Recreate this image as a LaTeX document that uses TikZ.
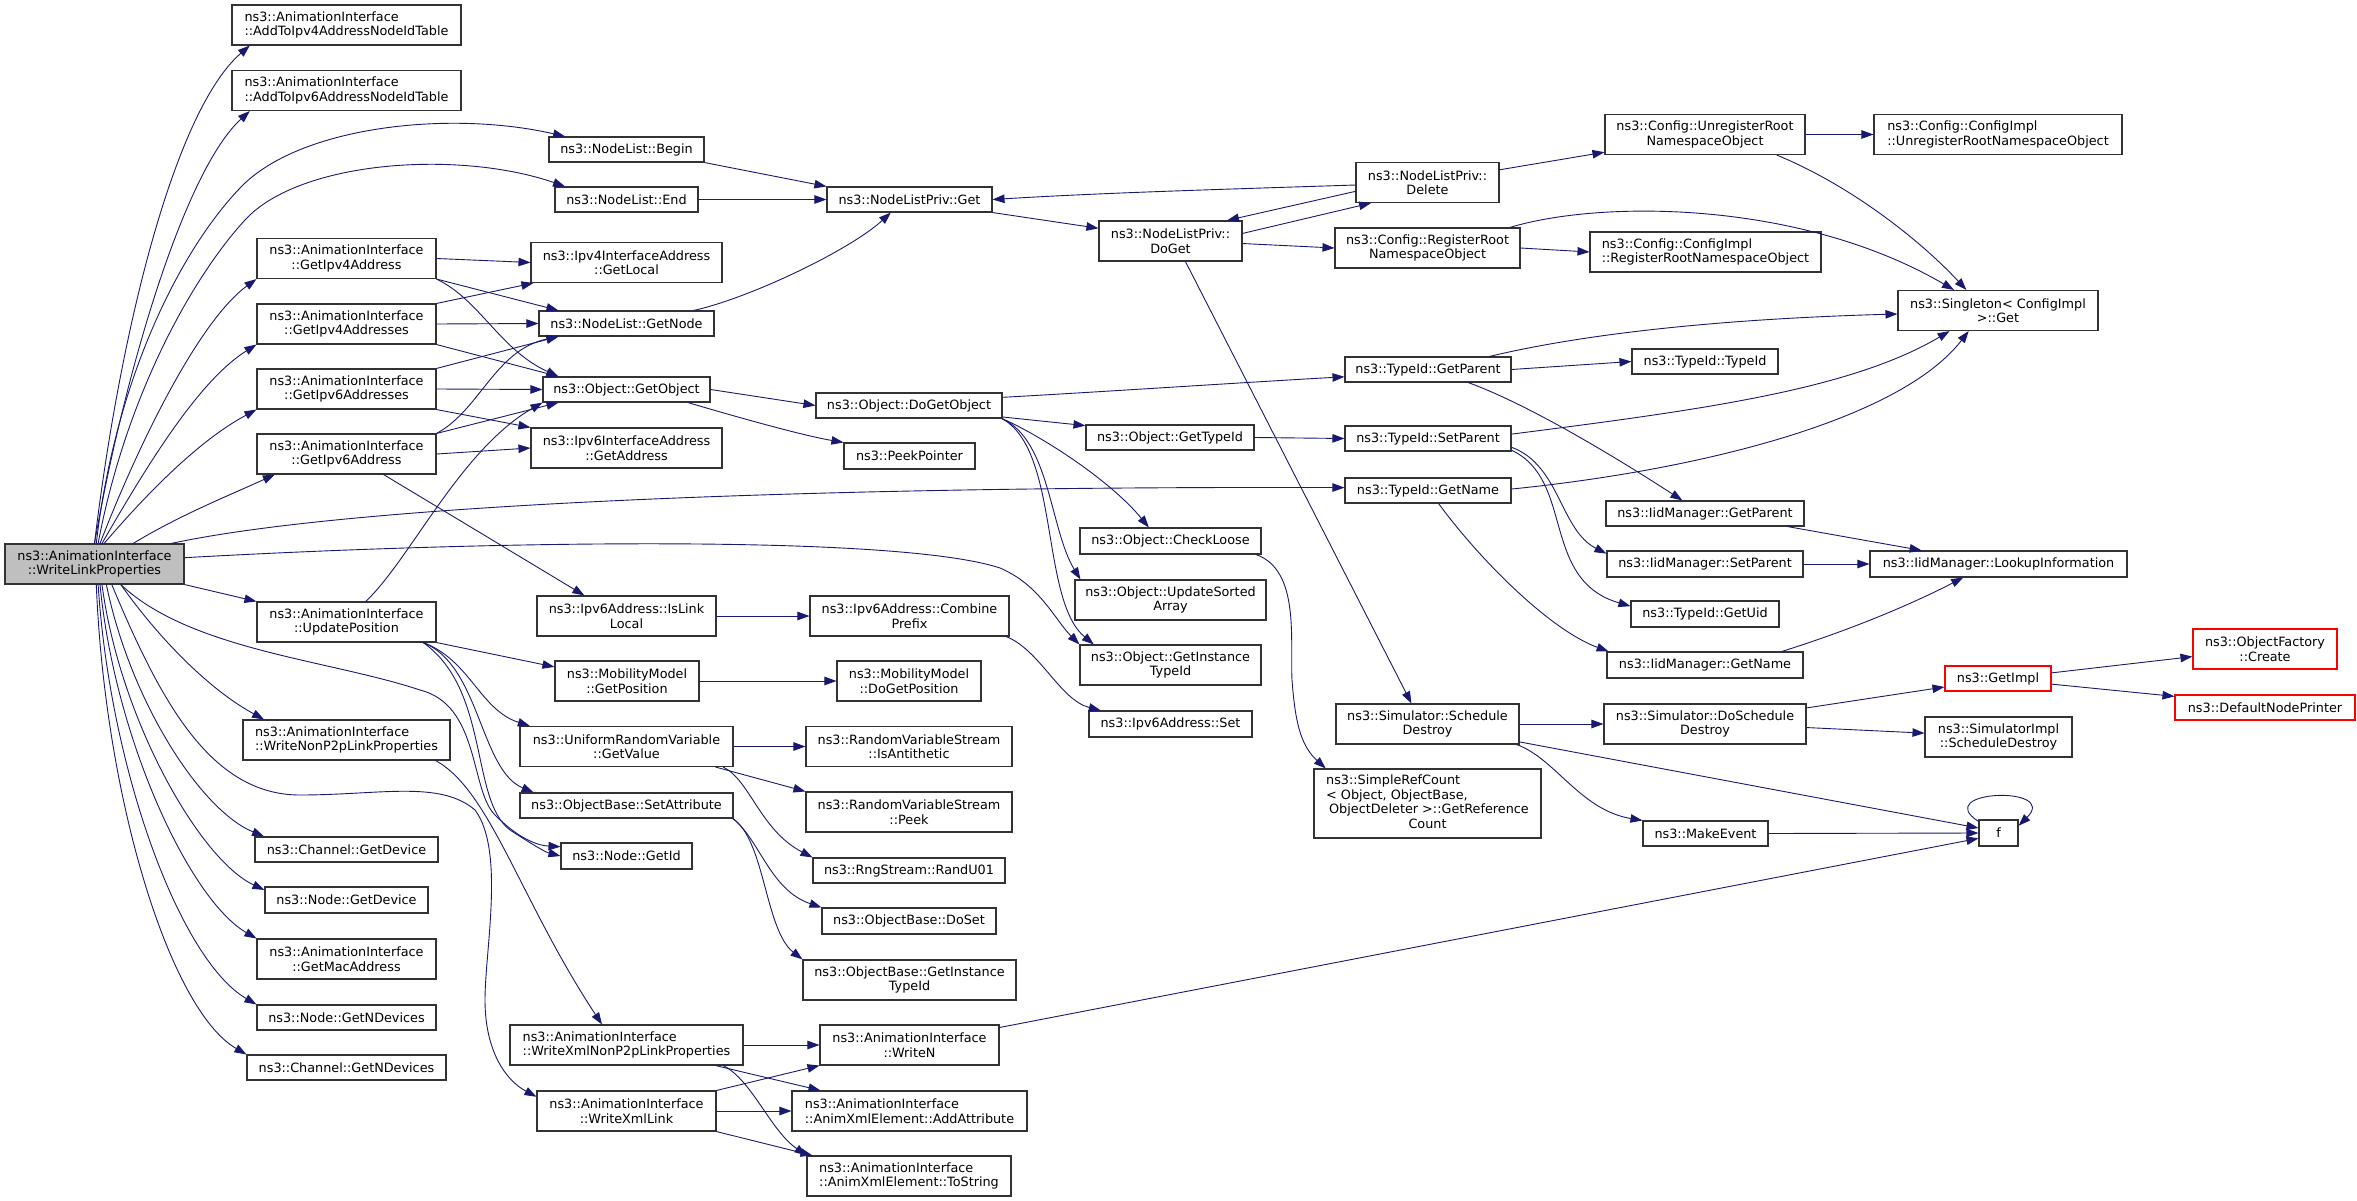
\documentclass[tikz,border=0pt]{standalone}
\usepackage{fontspec}
\setmainfont{DejaVu Sans}
\usetikzlibrary{arrows.meta}
\definecolor{edgec}{HTML}{191970}
\definecolor{boxc}{HTML}{333333}
\definecolor{wfill}{HTML}{BFBFBF}
\begin{document}
\begin{tikzpicture}[x=1pt,y=-1pt,
  box/.style={draw=boxc, line width=1.1pt, fill=white, inner sep=1pt, text=black, font=\fontsize{12.8}{14.5}\selectfont},
  cbox/.style={box, align=center},
  lbox/.style={box, align=left},
  rbox/.style={cbox, draw=red},
  wh/.style 2 args={minimum width=#1pt, minimum height=#2pt},
  edge/.style={draw=edgec, line width=0.9pt, -{Triangle[length=12pt,width=8.5pt]}}]
\useasboundingbox (0,0) rectangle (2357,1201);
% column 1
\node[cbox, fill=wfill, wh={179}{40}] (W) at (94.5,564) {ns3::AnimationInterface\\::WriteLinkProperties};
% column 2
\node[lbox, wh={229}{40}] (add4) at (346.5,25) {ns3::AnimationInterface\\::AddToIpv4AddressNodeIdTable};
\node[lbox, wh={229}{40}] (add6) at (346.5,90.5) {ns3::AnimationInterface\\::AddToIpv6AddressNodeIdTable};
\node[cbox, wh={179}{40}] (gip4) at (346.5,258.5) {ns3::AnimationInterface\\::GetIpv4Address};
\node[cbox, wh={179}{40}] (gip4s) at (346.5,324) {ns3::AnimationInterface\\::GetIpv4Addresses};
\node[cbox, wh={179}{40}] (gip6s) at (346.5,389) {ns3::AnimationInterface\\::GetIpv6Addresses};
\node[cbox, wh={179}{40}] (gip6) at (346.5,454) {ns3::AnimationInterface\\::GetIpv6Address};
\node[cbox, wh={179}{40}] (upd) at (346.5,622) {ns3::AnimationInterface\\::UpdatePosition};
\node[lbox, wh={207}{40}] (writenon) at (346.5,740) {ns3::AnimationInterface\\::WriteNonP2pLinkProperties};
\node[cbox, wh={183}{25}] (chdev) at (346.5,849.5) {ns3::Channel::GetDevice};
\node[cbox, wh={163}{26}] (nodedev) at (346.5,900) {ns3::Node::GetDevice};
\node[cbox, wh={179}{40}] (mac) at (346.5,959) {ns3::AnimationInterface\\::GetMacAddress};
\node[cbox, wh={179}{25}] (nodendev) at (346.5,1017.5) {ns3::Node::GetNDevices};
\node[cbox, wh={199}{25}] (chndev) at (346.5,1067.5) {ns3::Channel::GetNDevices};
% column 3
\node[cbox, wh={155}{25}] (nlbegin) at (626.5,149.5) {ns3::NodeList::Begin};
\node[cbox, wh={143}{25}] (nlend) at (626.5,199.5) {ns3::NodeList::End};
\node[cbox, wh={191}{40}] (local) at (626.5,262.5) {ns3::Ipv4InterfaceAddress\\::GetLocal};
\node[cbox, wh={175}{25}] (getnode) at (626.5,323.5) {ns3::NodeList::GetNode};
\node[cbox, wh={167}{25}] (getobj) at (626.5,389.5) {ns3::Object::GetObject};
\node[cbox, wh={191}{40}] (getaddr) at (626.5,448) {ns3::Ipv6InterfaceAddress\\::GetAddress};
\node[cbox, wh={179}{40}] (islink) at (626.5,616) {ns3::Ipv6Address::IsLink\\Local};
\node[cbox, wh={144}{40}] (getpos) at (627,681) {ns3::MobilityModel\\::GetPosition};
\node[cbox, wh={213}{40}] (getval) at (626.5,746.5) {ns3::UniformRandomVariable\\::GetValue};
\node[cbox, wh={213}{25}] (setattr) at (626.5,805.5) {ns3::ObjectBase::SetAttribute};
\node[cbox, wh={131}{26}] (getid) at (626.5,856) {ns3::Node::GetId};
\node[lbox, wh={233}{40}] (xmlnon) at (626.5,1045) {ns3::AnimationInterface\\::WriteXmlNonP2pLinkProperties};
\node[cbox, wh={179}{40}] (xmllink) at (626.5,1111) {ns3::AnimationInterface\\::WriteXmlLink};
% column 4
\node[cbox, wh={165}{25}] (nlget) at (909.5,199.5) {ns3::NodeListPriv::Get};
\node[cbox, wh={186}{25}] (dogetobj) at (909,405.5) {ns3::Object::DoGetObject};
\node[cbox, wh={131}{26}] (peek) at (909.5,456) {ns3::PeekPointer};
\node[cbox, wh={199}{40}] (combine) at (909.5,616) {ns3::Ipv6Address::Combine\\Prefix};
\node[cbox, wh={144}{40}] (dogetpos) at (909,681) {ns3::MobilityModel\\::DoGetPosition};
\node[cbox, wh={206}{40}] (anti) at (909,746.5) {ns3::RandomVariableStream\\::IsAntithetic};
\node[cbox, wh={206}{40}] (peekrv) at (909,812) {ns3::RandomVariableStream\\::Peek};
\node[cbox, wh={192}{25}] (randu) at (909,870.5) {ns3::RngStream::RandU01};
\node[cbox, wh={174}{26}] (doset) at (909,921) {ns3::ObjectBase::DoSet};
\node[cbox, wh={213}{40}] (obgit) at (909.5,980) {ns3::ObjectBase::GetInstance\\TypeId};
\node[cbox, wh={179}{40}] (writen) at (909.5,1045) {ns3::AnimationInterface\\::WriteN};
\node[lbox, wh={235}{40}] (addattr) at (909.5,1111) {ns3::AnimationInterface\\::AnimXmlElement::AddAttribute};
\node[lbox, wh={204}{40}] (tostr) at (909,1176) {ns3::AnimationInterface\\::AnimXmlElement::ToString};
% column 5
\node[cbox, wh={143}{40}] (doget) at (1170.5,241) {ns3::NodeListPriv::\\DoGet};
\node[cbox, wh={168}{25}] (gettid) at (1170,437.5) {ns3::Object::GetTypeId};
\node[cbox, wh={181}{26}] (checkloose) at (1170.5,541) {ns3::Object::CheckLoose};
\node[cbox, wh={191}{40}] (usa) at (1170.5,600) {ns3::Object::UpdateSorted\\Array};
\node[cbox, wh={181}{40}] (ogit) at (1170.5,665) {ns3::Object::GetInstance\\TypeId};
\node[cbox, wh={163}{26}] (v6set) at (1170.5,724) {ns3::Ipv6Address::Set};
% column 6
\node[cbox, wh={143}{40}] (delete) at (1427.5,182.5) {ns3::NodeListPriv::\\Delete};
\node[cbox, wh={185}{40}] (reg) at (1427.5,248) {ns3::Config::RegisterRoot\\NamespaceObject};
\node[cbox, wh={166}{25}] (tgp) at (1428,369.5) {ns3::TypeId::GetParent};
\node[cbox, wh={166}{25}] (tsp) at (1428,438.5) {ns3::TypeId::SetParent};
\node[cbox, wh={166}{25}] (tgn) at (1428,490.5) {ns3::TypeId::GetName};
\node[cbox, wh={183}{40}] (sdestroy) at (1427.5,724) {ns3::Simulator::Schedule\\Destroy};
\node[box, wh={227}{69}] (src) at (1427.5,803.5) {\begin{tabular}{@{}l@{}}ns3::SimpleRefCount\\< Object, ObjectBase,\\\hspace{3pt}ObjectDeleter >::GetReference\\\multicolumn{1}{@{}c@{}}{Count}\end{tabular}};
% column 7
\node[cbox, wh={200}{40}] (unreg) at (1705,134.5) {ns3::Config::UnregisterRoot\\NamespaceObject};
\node[lbox, wh={231}{40}] (cireg) at (1705.5,252) {ns3::Config::ConfigImpl\\::RegisterRootNamespaceObject};
\node[cbox, wh={146}{25}] (tidtid) at (1705,361.5) {ns3::TypeId::TypeId};
\node[cbox, wh={198}{25}] (igp) at (1705,513.5) {ns3::IidManager::GetParent};
\node[cbox, wh={196}{26}] (isp) at (1705,564) {ns3::IidManager::SetParent};
\node[cbox, wh={148}{26}] (guid) at (1705,614) {ns3::TypeId::GetUid};
\node[cbox, wh={196}{26}] (ign) at (1705,665) {ns3::IidManager::GetName};
\node[cbox, wh={202}{40}] (dsd) at (1705,724) {ns3::Simulator::DoSchedule\\Destroy};
\node[cbox, wh={125}{25}] (mkev) at (1705.5,833.5) {ns3::MakeEvent};
% column 8
\node[lbox, wh={248}{40}] (cunreg) at (1998,134.5) {ns3::Config::ConfigImpl\\::UnregisterRootNamespaceObject};
\node[cbox, wh={200}{40}] (single) at (1998,310.5) {ns3::Singleton< ConfigImpl\\ >::Get};
\node[cbox, wh={257}{26}] (lookup) at (1998.5,564) {ns3::IidManager::LookupInformation};
\node[rbox, wh={106}{25}] (getimpl) at (1998,678.5) {ns3::GetImpl};
\node[cbox, wh={147}{40}] (simimpl) at (1998.5,737) {ns3::SimulatorImpl\\::ScheduleDestroy};
\node[cbox, wh={39}{26}] (f) at (1998.5,833) {f};
% column 9
\node[rbox, wh={144}{40}] (ofc) at (2265,649) {ns3::ObjectFactory\\::Create};
\node[rbox, wh={180}{25}] (dnp) at (2265,707.5) {ns3::DefaultNodePrinter};

% ---- edges from WriteLinkProperties
\draw[edge] (W.north) .. controls (120,330) and (175,110) .. (add4.192);
\draw[edge] (W.north) .. controls (125,370) and (185,170) .. (add6.192);
\draw[edge] (W.85) .. controls (115,380) and (180,250) .. (241,187) .. controls (300,126) and (450,110) .. (nlbegin.168);
\draw[edge] (W.80) .. controls (125,400) and (190,280) .. (245,220) .. controls (300,160) and (460,150) .. (nlend.168);
\draw[edge] (W.75) .. controls (140,440) and (200,320) .. (gip4.south west);
\draw[edge] (W.70) .. controls (150,460) and (200,380) .. (gip4s.south west);
\draw[edge] (W.65) .. controls (150,490) and (200,440) .. (gip6s.south west);
\draw[edge] (W.28) .. controls (180,515) and (230,495) .. (gip6.196);
\draw[edge] (W.15) .. controls (350,505) and (800,486) .. (tgn.178);
\draw[edge] (W.4.5) .. controls (500,540) and (900,535) .. (1000,568) .. controls (1040,585) and (1055,620) .. (ogit.north west);
\draw[edge] (W.south east) -- (upd.north west);
\draw[edge] (W.-38) .. controls (160,640) and (210,690) .. (writenon.166);
\draw[edge] (W.-38) .. controls (190,650) and (330,660) .. (420,690) .. controls (480,705) and (470,790) .. (495,815) .. controls (510,830) and (530,845) .. (getid.172);
\draw[edge] (W.-50) .. controls (160,700) and (210,795) .. (300,795) .. controls (380,795) and (440,780) .. (475,810) .. controls (505,850) and (485,950) .. (485,1000) .. controls (485,1050) and (505,1080) .. (xmllink.171);
\draw[edge] (W.-60) .. controls (130,700) and (200,810) .. (chdev.171);
\draw[edge] (W.-70) .. controls (120,720) and (200,860) .. (nodedev.173);
\draw[edge] (W.-75) .. controls (115,740) and (190,900) .. (mac.north west);
\draw[edge] (W.-80) .. controls (110,770) and (180,960) .. (nodendev.north west);
\draw[edge] (W.-85) .. controls (105,800) and (170,1010) .. (chndev.north west);

% ---- second level
\draw[edge] (gip4.east) -- (local.west);
\draw[edge] (gip4.south east) -- ([xshift=20pt]getnode.north west);
\draw[edge] (gip4.south east) .. controls (480,300) and (500,350) .. ([xshift=16pt]getobj.north west);
\draw[edge] (gip4s.north east) -- ([xshift=3pt]local.south west);
\draw[edge] (gip4s.east) -- (getnode.west);
\draw[edge] (gip4s.south east) -- ([xshift=16pt]getobj.north west);
\draw[edge] (gip6s.north east) -- ([xshift=20pt]getnode.south west);
\draw[edge] (gip6s.east) -- (getobj.west);
\draw[edge] (gip6s.south east) -- (getaddr.north west);
\draw[edge] (gip6.north east) .. controls (480,410) and (495,350) .. ([xshift=20pt]getnode.south west);
\draw[edge] (gip6.north east) -- ([xshift=16pt]getobj.south west);
\draw[edge] (gip6.east) -- (getaddr.west);
\draw[edge] (gip6.-29) -- (islink.154);
\draw[edge] (upd.47) .. controls (410,560) and (460,450) .. (getobj.south west);
\draw[edge] (upd.south east) -- (getpos.169);
\draw[edge] (upd.345) .. controls (470,660) and (480,710) .. (getval.168);
\draw[edge] (upd.345) .. controls (480,665) and (480,770) .. (setattr.172);
\draw[edge] (upd.345) .. controls (490,690) and (470,800) .. (510,830) .. controls (530,843) and (545,852) .. (getid.180);
\draw[edge] (writenon.-13.5) .. controls (490,790) and (520,900) .. (xmlnon.140);

% ---- third level
\draw[edge] (nlbegin.south east) -- (nlget.north west);
\draw[edge] (nlend.east) -- (nlget.west);
\draw[edge] (getnode.11) .. controls (750,298) and (850,250) .. (nlget.-145);
\draw[edge] (getobj.east) -- (dogetobj.west);
\draw[edge] (getobj.-12) .. controls (730,415) and (800,435) .. (peek.north west);
\draw[edge] (islink.east) -- (combine.west);
\draw[edge] (getpos.east) -- (dogetpos.west);
\draw[edge] (getval.east) -- (anti.west);
\draw[edge] (getval.-13) -- (peekrv.north west);
\draw[edge] (getval.-12) .. controls (750,780) and (760,830) .. (randu.north west);
\draw[edge] (setattr.-7.8) .. controls (760,840) and (770,890) .. (doset.north west);
\draw[edge] (setattr.-7.5) .. controls (765,840) and (765,930) .. (obgit.north west);
\draw[edge] (xmlnon.east) -- (writen.west);
\draw[edge] (xmlnon.-13) -- (addattr.167.3);
\draw[edge] (xmlnon.-12.5) .. controls (752,1080) and (770,1130) .. (tostr.north west);
\draw[edge] (xmllink.north east) -- (writen.south west);
\draw[edge] (xmllink.east) -- (addattr.west);
\draw[edge] (xmllink.south east) -- ([xshift=6pt]tostr.north west);

% ---- fourth level
\draw[edge] (nlget.south east) -- (doget.170);
\draw[edge] (doget.6) -- (delete.200);
\draw[edge] (delete.187) -- (doget.20);
\draw[edge] (delete.182) .. controls (1200,190) and (1100,193) .. (nlget.east);
\draw[edge] (doget.-2) -- (reg.west);
\draw[edge] (doget.-54) -- (sdestroy.128);
\draw[edge] (delete.10) -- (unreg.190);
\draw[edge] (unreg.east) -- (cunreg.west);
\draw[edge] (unreg.-16) .. controls (1850,185) and (1920,240) .. (single.147);
\draw[edge] (reg.east) -- (cireg.west);
\draw[edge] (reg.14) .. controls (1600,200) and (1800,200) .. (single.155);
\draw[edge] (dogetobj.5) .. controls (1100,392) and (1250,382) .. (tgp.185);
\draw[edge] (dogetobj.-7) -- (gettid.172);
\draw[edge] (dogetobj.-8.5) .. controls (1040,435) and (1110,480) .. (checkloose.148);
\draw[edge] (dogetobj.-8) .. controls (1050,440) and (1050,530) .. ([xshift=6pt]usa.north west);
\draw[edge] (dogetobj.-8) .. controls (1060,450) and (1040,600) .. (ogit.165);
\draw[edge] (gettid.east) -- (tsp.west);
\draw[edge] (combine.-12.6) .. controls (1040,650) and (1060,700) .. (v6set.169.6);
\draw[edge] (checkloose.-9.6) .. controls (1300,570) and (1290,640) .. (1292,680) .. controls (1295,720) and (1300,745) .. (src.161);
\draw[edge] (writen.11) -- (f.195);

% ---- TypeId and IidManager
\draw[edge] (tgp.12.6) .. controls (1600,330) and (1750,318) .. (single.182);
\draw[edge] (tgp.east) -- (tidtid.west);
\draw[edge] (tgp.-18) .. controls (1530,405) and (1620,460) .. (igp.150);
\draw[edge] (tsp.3) .. controls (1700,410) and (1850,390) .. (single.-157.5);
\draw[edge] (tgn.1) .. controls (1700,470) and (1900,420) .. (single.215);
\draw[edge] (tsp.-6) .. controls (1560,465) and (1560,530) .. (isp.174);
\draw[edge] (tsp.-8) .. controls (1575,480) and (1540,580) .. (guid.174);
\draw[edge] (tgn.-51) .. controls (1480,560) and (1550,630) .. (ign.172);
\draw[edge] (igp.-9.6) -- (lookup.170);
\draw[edge] (isp.east) -- (lookup.west);
\draw[edge] (ign.10.5) .. controls (1850,630) and (1910,605) .. (lookup.201.5);

% ---- Simulator
\draw[edge] (sdestroy.east) -- (dsd.west);
\draw[edge] (sdestroy.-13) .. controls (1555,758) and (1580,810) .. (mkev.north west);
\draw[edge] (sdestroy.-11) -- (f.166);
\draw[edge] (mkev.east) -- (f.west);
\draw[edge] (f.150) .. controls (1930,790) and (2060,785) .. (f.20);
\draw[edge] (dsd.9) -- (getimpl.189);
\draw[edge] (dsd.-2.3) -- (simimpl.177);
\draw[edge] (getimpl.6) -- (ofc.186);
\draw[edge] (getimpl.-6) -- (dnp.173);
\end{tikzpicture}
\end{document}
